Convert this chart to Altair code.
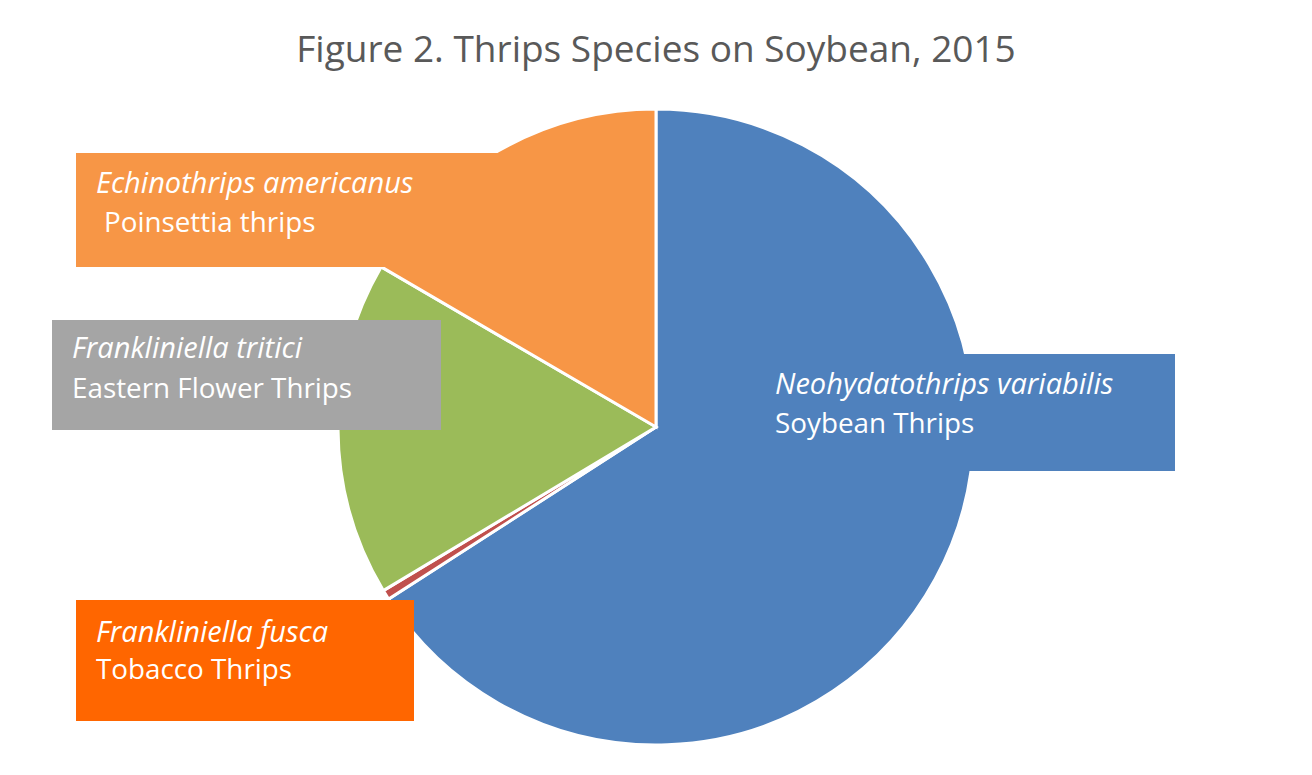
import altair as alt
import pandas as pd

# ---- data ----
species = ["Neohydatothrips variabilis", "Frankliniella fusca",
           "Frankliniella tritici", "Echinothrips americanus"]
common = ["Soybean Thrips", "Tobacco Thrips", "Eastern Flower Thrips", "Poinsettia thrips"]
share = [65.9, 0.5, 17.0, 16.6]
slice_colors = ["#4F81BD", "#C0504D", "#9BBB59", "#F79646"]
box_colors = ["#4F81BD", "#FF6600", "#A5A5A5", "#F79646"]
title_text = "Figure 2. Thrips Species on Soybean, 2015"

# ---- layout (pixels) ----
W, H = 1296, 759
CX, CY, R = 648, 419, 318
box_left = [742, 68, 44, 68]
box_right = [1167, 406, 433, 552]
box_top = [346, 592, 312, 145]
box_bottom = [463, 713, 422, 259]
text_x1 = [767, 88, 64, 88]
text_x2 = [767, 88, 64, 96]
base1 = [386, 634, 350, 185]
base2 = [425, 671, 390, 224]
FONT = "Open Sans"

xs = alt.Scale(domain=[0, W], range=[0, W], nice=False, zero=False)
ys = alt.Scale(domain=[0, H], range=[0, H], nice=False, zero=False)

pie_df = pd.DataFrame({"species": species, "share": share,
                       "color": slice_colors, "idx": list(range(len(species)))})
pie = alt.Chart(pie_df).mark_arc(radius=R, stroke="white", strokeWidth=3).encode(
    theta=alt.Theta("share:Q", stack=True),
    color=alt.Color("color:N", scale=None),
    order=alt.Order("idx:Q"),
    x=alt.value(CX), y=alt.value(CY),
)

box_df = pd.DataFrame({"x0": box_left, "x1": box_right, "y0": box_top,
                       "y1": box_bottom, "fill": box_colors})
boxes = alt.Chart(box_df).mark_rect().encode(
    x=alt.X("x0:Q", scale=xs, axis=None), x2="x1:Q",
    y=alt.Y("y0:Q", scale=ys, axis=None), y2="y1:Q",
    fill=alt.Fill("fill:N", scale=None),
)

t1_df = pd.DataFrame({"x": text_x1, "y": base1, "t": species})
t2_df = pd.DataFrame({"x": text_x2, "y": base2, "t": common})
line1 = alt.Chart(t1_df).mark_text(align="left", baseline="alphabetic", font=FONT,
                                   fontSize=29, fontStyle="italic", color="white").encode(
    x=alt.X("x:Q", scale=xs, axis=None), y=alt.Y("y:Q", scale=ys, axis=None), text="t:N")
line2 = alt.Chart(t2_df).mark_text(align="left", baseline="alphabetic", font=FONT,
                                   fontSize=27.8, color="white").encode(
    x=alt.X("x:Q", scale=xs, axis=None), y=alt.Y("y:Q", scale=ys, axis=None), text="t:N")

title = alt.Chart(pd.DataFrame({"t": [title_text]})).mark_text(
    align="center", baseline="alphabetic", font=FONT, fontSize=37, color="#595959").encode(
    x=alt.value(648), y=alt.value(54), text="t:N")

chart = alt.layer(pie, boxes, line1, line2, title).properties(
    width=W, height=H, padding=0,
    autosize=alt.AutoSizeParams(type="fit", contains="padding"),
).configure_view(stroke=None)

chart.save("out.html", embed_options={"renderer": "svg", "actions": False})
